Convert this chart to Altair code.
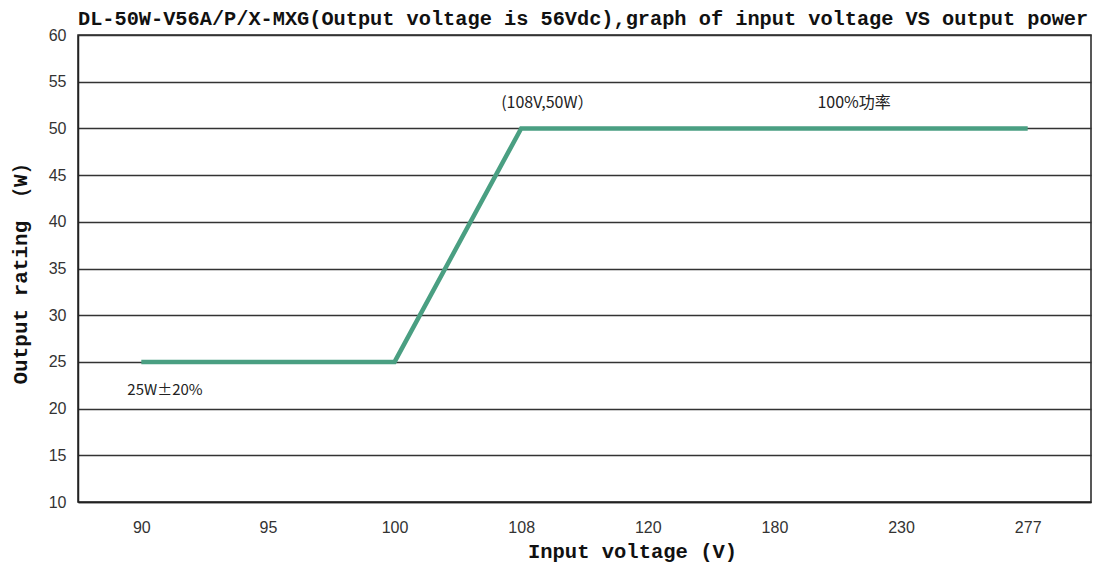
import altair as alt
import pandas as pd

voltages = ["90", "95", "100", "108", "120", "180", "230", "277"]
power = [25, 25, 25, 50, 50, 50, 50, 50]
y_ticks = [10, 15, 20, 25, 30, 35, 40, 45, 50, 55, 60]

ann_text = ["(108V,50W）", "100%功率", "25W±20%"]
ann_x = ["108", "180", "90"]
ann_y = [52.7, 52.7, 22.0]

df = pd.DataFrame({"v": voltages, "p": power})
ann = pd.DataFrame({"t": ann_text, "v": ann_x, "p": ann_y})

xscale = alt.Scale(domain=voltages, type="point", padding=0.5)
yscale = alt.Scale(domain=[10, 60], nice=False, zero=False)

mono = "Liberation Mono"

base = alt.Chart(df)

line = base.mark_line(color="#4a9f82", strokeWidth=4.5).encode(
    x=alt.X("v:O", scale=xscale, sort=voltages,
            axis=alt.Axis(title="Input voltage (V)", labelAngle=0,
                          labelFont="Liberation Sans", labelFontSize=16,
                          labelColor="#333", labelPadding=17, ticks=False,
                          domainColor="#222", domainWidth=1.5,
                          titleFont=mono, titleFontWeight="bold",
                          titleFontSize=20.5, titleColor="#111",
                          titleX=554, titlePadding=6, grid=False)),
    y=alt.Y("p:Q", scale=yscale,
            axis=alt.Axis(title="Output  rating  （W）", values=y_ticks,
                          labelFont="Liberation Sans", labelFontSize=16,
                          labelColor="#333", labelPadding=12, ticks=False,
                          domainColor="#222", domainWidth=1.5,
                          grid=True, gridColor="#333", gridWidth=1.5,
                          titleFont=mono, titleFontWeight="bold",
                          titleFontSize=21, titleColor="#111",
                          titlePadding=18)),
)

def ann_layer(i, dx, size):
    sub = ann.iloc[[i]]
    return alt.Chart(sub).mark_text(
        align="left", baseline="middle", dx=dx,
        font="Noto Sans CJK SC", fontSize=size, color="#222"
    ).encode(
        x=alt.X("v:O", scale=xscale, sort=voltages),
        y=alt.Y("p:Q", scale=yscale),
        text="t:N",
    )

chart = alt.layer(
    line,
    ann_layer(0, -20, 16),
    ann_layer(1, 43, 16),
    ann_layer(2, -14, 15),
).properties(
    width=1013,
    height=467,
    title=alt.TitleParams(
        "DL-50W-V56A/P/X-MXG(Output voltage is 56Vdc),graph of input voltage VS output power",
        anchor="start", frame="group", font=mono, fontWeight="bold",
        fontSize=20.3, color="#111", offset=-2),
    autosize=alt.AutoSizeParams(type="none"),
    padding={"left": 70, "top": 27, "right": 8, "bottom": 60},
    background="white",
).configure_view(stroke="#222", strokeWidth=1.5)

chart.save("out.html", embed_options={"renderer": "svg", "actions": False})
